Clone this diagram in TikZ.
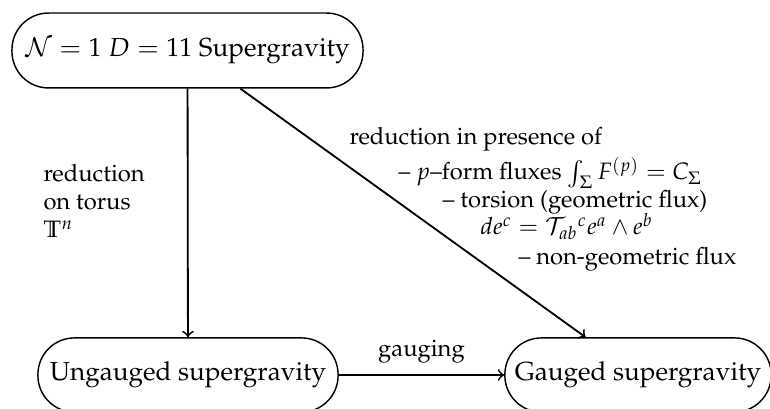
\documentclass[tikz,border=0pt]{standalone}
\usepackage[T1]{fontenc}
\usepackage{mathpazo}
\usepackage{amssymb}
\begin{document}
\begin{tikzpicture}[x=0.3831pt,y=-0.3831pt,
  box/.style={draw, line width=0.55pt, rounded corners=14pt, inner sep=0pt,
    font=\fontsize{10}{12}\selectfont},
  arr/.style={->, line width=0.7pt},
  lab/.style={anchor=base west, inner sep=0pt, font=\fontsize{9.1}{11}\selectfont}]
\useasboundingbox (0,0) rectangle (770,409);
\clip (0,0) rectangle (770,409);
\node[box, minimum width=134.5pt, minimum height=28.7pt] (sugra) at (187.5,50.5)
  {$\mathcal{N}=1$ $D=11$ Supergravity};
\node[box, minimum width=115pt, minimum height=28.4pt] (ung) at (188,375)
  {Ungauged supergravity};
\node[box, minimum width=102pt, minimum height=28.4pt] (gau) at (638,375)
  {Gauged supergravity};
\draw[arr] (sugra) -- (ung);
\draw[arr] (sugra) -- (gau);
\draw[arr] (ung) -- (gau);
\node[lab, anchor=base] (gaug) at (421.5,357) {gauging};
\node[lab] (r1) at (43,182) {reduction};
\node[lab] (r2) at (43,210) {on torus};
\node[lab] (r3) at (43,238) {$\mathbb{T}^n$};
\node[lab] (p0) at (349,145) {reduction in presence of};
\node[lab] (p1) at (398,180) {-- $p$--form fluxes $\int_\Sigma F^{(p)} = C_\Sigma$};
\node[lab] (p2) at (442,208) {-- torsion (geometric flux)};
\node[lab] (p3) at (480,235) {$de^c = \mathcal{T}_{ab}{}^c e^a\wedge e^b$};
\node[lab] (p4) at (518,265) {-- non-geometric flux};
\end{tikzpicture}
\end{document}
